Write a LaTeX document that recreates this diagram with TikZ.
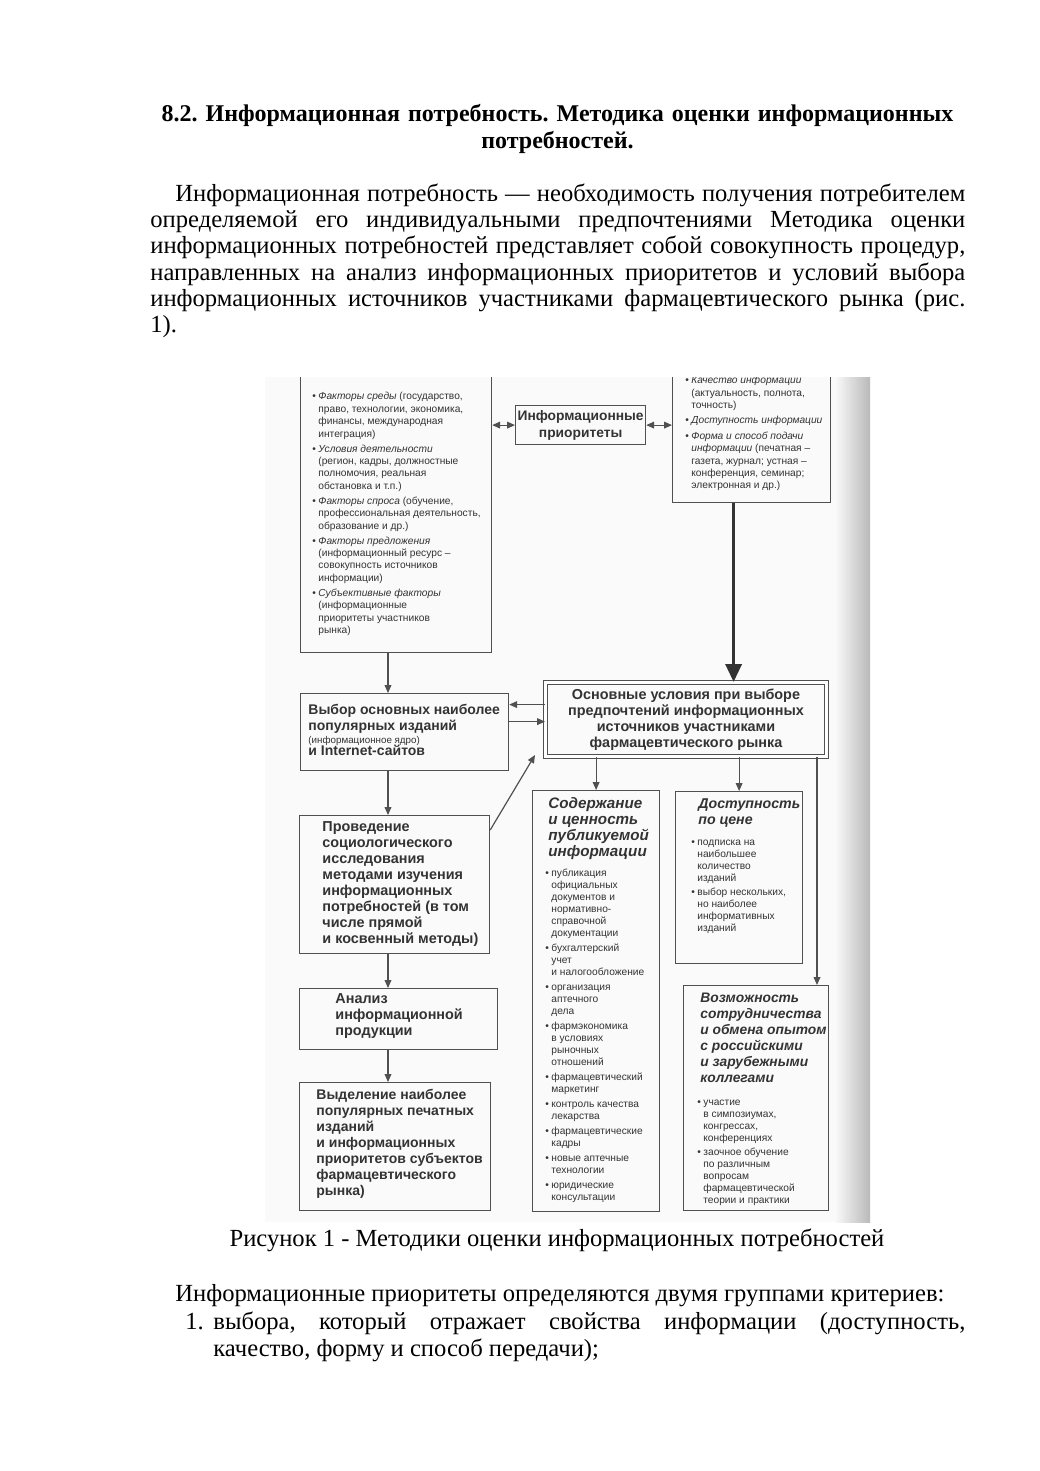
\documentclass[tikz,border=0pt]{standalone}
\usepackage{fontspec}
\setmainfont{Liberation Serif}
\newfontfamily\diagfont{Liberation Sans}
\usetikzlibrary{positioning,calc,arrows.meta}
\definecolor{scan_ink}{HTML}{333333}
\definecolor{scan_line}{HTML}{505050}
\newcommand{\bul}{\makebox[3pt][l]{\textbullet}}
\newcommand{\ind}{\hspace*{3pt}}
\frenchspacing
\tikzset{BODY/.style={inner sep=0pt, font=\fontsize{12.3}{13.1}\selectfont}}
\tikzset{BOX/.style={rectangle, draw=scan_line, semithick, anchor=north west, inner sep=0pt}}
\tikzset{TXT/.style={inner sep=0pt, anchor=north west, align=left, text=scan_ink}}
\tikzset{HEAD/.style={font=\diagfont\fontsize{7.2}{8}\selectfont\bfseries}}
\tikzset{LIST/.style={font=\diagfont\fontsize{5.1}{6}\selectfont}}
\tikzset{TTL/.style={font=\diagfont\fontsize{#1}{8}\selectfont\bfseries\itshape}, TTL/.default=7.3}
\tikzset{ARROW/.style={draw=scan_line, semithick, -{Triangle[length=4pt,width=3.4pt]}}}
\tikzset{DARROW/.style={draw=scan_line, semithick, {Triangle[length=4pt,width=3.4pt]}-{Triangle[length=4pt,width=3.4pt]}}}
\tikzset{BIGARROW/.style={draw=black!80, line width=1.7pt, -{Triangle[length=9pt,width=8pt]}}}

\begin{document}
\begin{tikzpicture}[x=0.5pt,y=-0.5pt]
\useasboundingbox (0,0) rectangle (1039,1471);
\fill[white] (0,0) rectangle (1039,1471);

% page text
\node[BODY, font=\fontsize{12}{13.5}\selectfont\bfseries, text width=412pt, align=center, anchor=base] (n_title) at (557.5,122) {8.2. Информационная потребность. Методика оценки информационных\\ потребностей.};

\node[BODY, text width=407.5pt, align=justify, anchor=base west] (n_para) at (150,201.5) {%
\hspace*{12.5pt}Информационная потребность — необходимость получения потребителем\linebreak
определяемой его индивидуальными предпочтениями Методика оценки\linebreak
информационных потребностей представляет собой совокупность процедур,\linebreak
направленных на анализ информационных приоритетов и условий выбора\linebreak
информационных источников участниками фармацевтического рынка (рис.\linebreak
1).};

% scanned figure
\begin{scope}
\clip (265,377) rectangle (870,1222);
\fill[gray!4] (265,377) rectangle (870,1222);
\shade[left color=gray!4, right color=gray!55] (835,377) rectangle (870,1222);

% boxes
\node[BOX, minimum width=95.5pt, minimum height=141pt] (n_factors) at (300,370) {};
\node[BOX, font=\diagfont\fontsize{6.9}{8.5}\selectfont\bfseries, text=scan_ink, align=center, minimum width=65pt, minimum height=19.5pt] (n_prio) at (515,405) {Информационные\\ приоритеты};
\node[BOX, minimum width=79pt, minimum height=68pt] (n_quality) at (672,366) {};
\node[BOX, minimum width=104pt, minimum height=38.5pt] (n_choice) at (300,693) {};
\node[BOX, HEAD, text=scan_ink, align=center, double=white, double distance=1.2pt, line width=0.5pt, minimum width=140.5pt, minimum height=37pt] (n_cond) at (545,682) {%
Основные условия при выборе\\
предпочтений информационных\\
источников участниками\\
фармацевтического рынка};
\node[BOX, minimum width=95pt, minimum height=69pt] (n_proc) at (299,815) {};
\node[BOX, minimum width=99pt, minimum height=30.5pt] (n_anal) at (299,988) {};
\node[BOX, minimum width=95.5pt, minimum height=64pt] (n_select) at (299,1082) {};
\node[BOX, minimum width=63.5pt, minimum height=210.5pt] (n_content) at (532,790) {};
\node[BOX, minimum width=63.5pt, minimum height=86pt] (n_price) at (675,791) {};
\node[BOX, minimum width=72.5pt, minimum height=112.5pt] (n_coop) at (683,985) {};

% box texts
\node[TXT, font=\diagfont\fontsize{5.1}{6.2}\selectfont] (t_factors) at ($(n_factors.north west)+(12,22)$) {%
\bul\textit{Факторы среды} (государство,\\
\ind право, технологии, экономика,\\
\ind финансы, международная\\
\ind интеграция)\\[1.3pt]
\bul\textit{Условия деятельности}\\
\ind (регион, кадры, должностные\\
\ind полномочия, реальная\\
\ind обстановка и т.п.)\\[1.3pt]
\bul\textit{Факторы спроса} (обучение,\\
\ind профессиональная деятельность,\\
\ind образование и др.)\\[1.3pt]
\bul\textit{Факторы предложения}\\
\ind (информационный ресурс –\\
\ind совокупность источников\\
\ind информации)\\[1.3pt]
\bul\textit{Субъективные факторы}\\
\ind (информационные\\
\ind приоритеты участников\\
\ind рынка)};

\node[TXT, font=\diagfont\fontsize{5.1}{6.2}\selectfont] (t_quality) at ($(n_quality.north west)+(13,10)$) {%
\bul\textit{Качество информации}\\
\ind (актуальность, полнота,\\
\ind точность)\\[1.5pt]
\bul\textit{Доступность информации}\\[1.5pt]
\bul\textit{Форма и способ подачи}\\
\ind \textit{информации} (печатная –\\
\ind газета, журнал; устная –\\
\ind конференция, семинар;\\
\ind электронная и др.)};

\node[TXT, font=\diagfont\fontsize{7}{8}\selectfont\bfseries] (t_choice) at ($(n_choice.north west)+(8,11)$) {%
Выбор основных наиболее\\
популярных изданий\\[-1.5pt]
{\fontsize{4.9}{5.5}\selectfont\mdseries (информационное ядро)}\\[-2pt]
и Internet-сайтов};

\node[TXT, HEAD] (t_proc) at ($(n_proc.north west)+(23,6)$) {%
Проведение\\
социологического\\
исследования\\
методами изучения\\
информационных\\
потребностей (в том\\
числе прямой\\
и косвенный методы)};

\node[TXT, HEAD] (t_anal) at ($(n_anal.north west)+(36,5)$) {%
Анализ\\
информационной\\
продукции};

\node[TXT, font=\diagfont\fontsize{7}{8}\selectfont\bfseries] (t_select) at ($(n_select.north west)+(17,7)$) {%
Выделение наиболее\\
популярных печатных\\
изданий\\
и информационных\\
приоритетов субъектов\\
фармацевтического\\
рынка)};

\node[TXT, TTL=7.6] (t_content_head) at ($(n_content.north west)+(16,7)$) {%
Содержание\\
и ценность\\
публикуемой\\
информации};
\node[TXT, LIST] (t_content) at ($(n_content.north west)+(13,79)$) {%
\bul публикация\\
\ind официальных\\
\ind документов и\\
\ind нормативно-\\
\ind справочной\\
\ind документации\\[1.5pt]
\bul бухгалтерский\\
\ind учет\\
\ind и налогообложение\\[1.5pt]
\bul организация\\
\ind аптечного\\
\ind дела\\[1.5pt]
\bul фармэкономика\\
\ind в условиях\\
\ind рыночных\\
\ind отношений\\[1.5pt]
\bul фармацевтический\\
\ind маркетинг\\[1.5pt]
\bul контроль качества\\
\ind лекарства\\[1.5pt]
\bul фармацевтические\\
\ind кадры\\[1.5pt]
\bul новые аптечные\\
\ind технологии\\[1.5pt]
\bul юридические\\
\ind консультации};

\node[TXT, TTL=7.1] (t_price_head) at ($(n_price.north west)+(23,7)$) {%
Доступность\\
по цене};
\node[TXT, LIST] (t_price) at ($(n_price.north west)+(16,49)$) {%
\bul подписка на\\
\ind наибольшее\\
\ind количество\\
\ind изданий\\[1pt]
\bul выбор нескольких,\\
\ind но наиболее\\
\ind информативных\\
\ind изданий};

\node[TXT, TTL=6.9] (t_coop_head) at ($(n_coop.north west)+(17,8)$) {%
Возможность\\
сотрудничества\\
и обмена опытом\\
с российскими\\
и зарубежными\\
коллегами};
\node[TXT, LIST] (t_coop) at ($(n_coop.north west)+(14,115)$) {%
\bul участие\\
\ind в симпозиумах,\\
\ind конгрессах,\\
\ind конференциях\\[1pt]
\bul заочное обучение\\
\ind по различным\\
\ind вопросам\\
\ind фармацевтической\\
\ind теории и практики};

% connectors
\coordinate (c_col) at (388,0);
\draw[DARROW] (n_factors.east |- n_prio.west) -- (n_prio.west);
\draw[DARROW] (n_prio.east) -- (n_prio.east -| n_quality.west);
\draw[BIGARROW] ([xshift=-9pt]n_quality.south) -- ([xshift=-9pt]n_quality.south |- n_cond.north);

\draw[ARROW] (c_col |- n_factors.south) -- (c_col |- n_choice.north);
\draw[ARROW] (c_col |- n_choice.south) -- (c_col |- n_proc.north);
\draw[ARROW] (c_col |- n_proc.south) -- (c_col |- n_anal.north);
\draw[ARROW] (c_col |- n_anal.south) -- (c_col |- n_select.north);

\coordinate (c_back) at ([yshift=13.75pt]n_choice.east);
\coordinate (c_forth) at ([yshift=5.25pt]n_choice.east);
\draw[ARROW] (c_back -| n_cond.west) -- (c_back);
\draw[ARROW] (c_forth) -- (c_forth -| n_cond.west);
\draw[ARROW] ([yshift=-7.5pt]n_proc.north east) -- ([xshift=-5pt,yshift=1pt]n_cond.south west);

\draw[ARROW] (n_content.north |- n_cond.south) -- (n_content.north);
\draw[ARROW] (n_price.north |- n_cond.south) -- (n_price.north);
\coordinate (c_right) at ([xshift=-5pt]n_cond.south east);
\draw[ARROW] (c_right) -- (c_right |- n_coop.north);
\end{scope}

% caption and text below
\node[BODY, anchor=base] (n_caption) at (557,1246) {Рисунок 1 - Методики оценки информационных потребностей};

\node[BODY, anchor=base west] (n_crit) at (175,1301.5) {Информационные приоритеты определяются двумя группами критериев:};
\node[BODY, anchor=base west] (n_num) at (185,1329.5) {1.};
\node[BODY, font=\fontsize{12.3}{13.5}\selectfont, text width=376pt, align=justify, anchor=base west] (n_item) at (213,1329.5) {%
выбора, который отражает свойства информации (доступность,\linebreak
качество, форму и способ передачи);};
\end{tikzpicture}
\end{document}
